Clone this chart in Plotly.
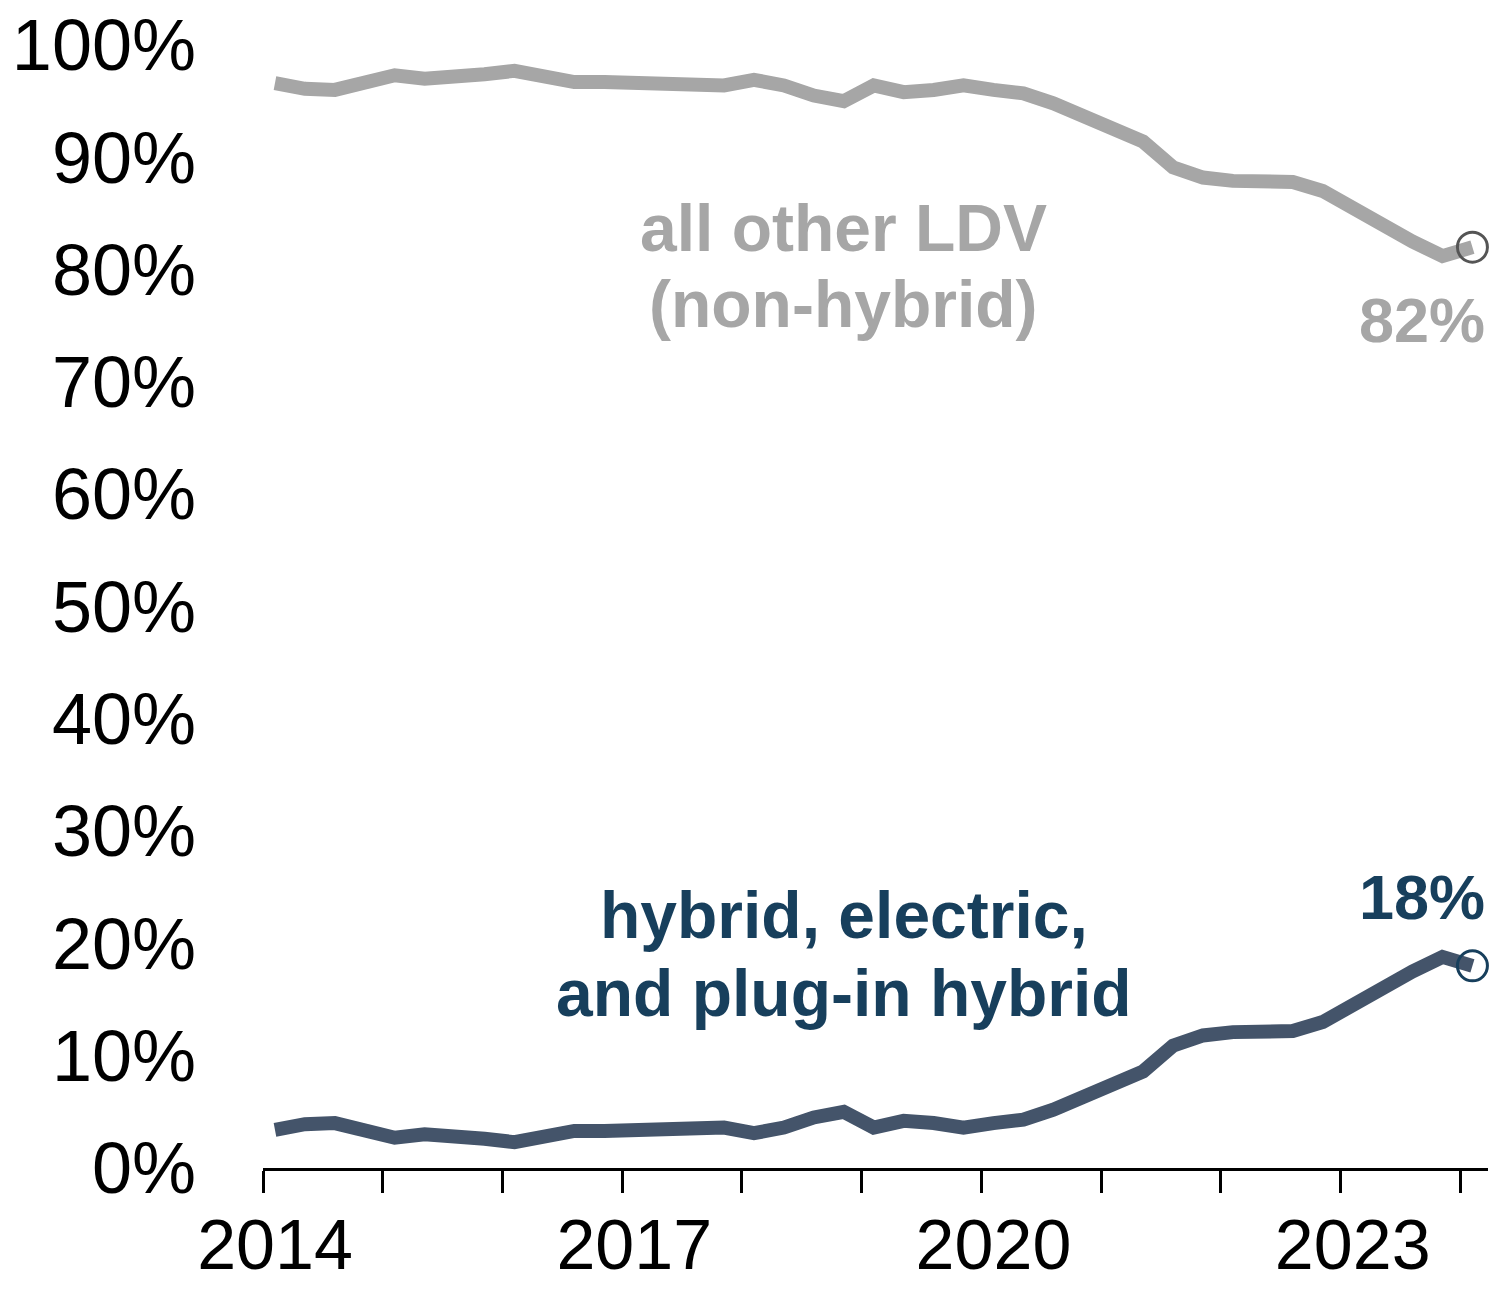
import pandas as pd
import plotly.graph_objects as go

# Quarterly observations, 2014 Q1 .. 2024 Q1
quarters = [str(p) for p in pd.period_range("2014Q1", "2024Q1", freq="Q")]

hybrid_share = [3.4, 3.9, 4.0, 3.2, 2.7, 3.0, 2.9, 2.6, 2.3, 2.8,
                3.3, 3.3, 3.3, 3.4, 3.5, 3.6, 3.1, 3.6, 4.5, 5.0,
                3.6, 4.2, 4.0, 3.6, 4.0, 4.3, 5.2, 6.3, 7.7, 8.6,
                10.9, 11.8, 12.1, 12.3, 12.2, 13.0, 14.6, 16.1, 17.5, 18.8,
                18.0]
other_share = [96.6, 96.1, 96.0, 96.8, 97.3, 97.0, 97.1, 97.4, 97.7, 97.2,
               96.7, 96.7, 96.7, 96.6, 96.5, 96.4, 96.9, 96.4, 95.5, 95.0,
               96.4, 95.8, 96.0, 96.4, 96.0, 95.7, 94.8, 93.7, 92.3, 91.4,
               89.1, 88.2, 87.9, 87.7, 87.8, 87.0, 85.4, 83.9, 82.5, 81.2,
               82.0]

year_ticks = list(range(2014, 2025))
year_labels = ["2014", "", "", "2017", "", "", "2020", "", "", "2023", ""]
y_ticks = list(range(0, 101, 10))
y_labels = [f"{v}%" for v in y_ticks]

GRAY = "#a6a6a6"
SLATE = "#44546a"
NAVY = "#173f5c"


def qpos(q):
    yr, qq = q.split("Q")
    return int(yr) + (int(qq) - 1) * 0.25 + 0.1


x = [qpos(q) for q in quarters]

fig = go.Figure()
fig.add_trace(go.Scatter(x=x, y=other_share, mode="lines",
                         line=dict(color=GRAY, width=14), hoverinfo="skip"))
fig.add_trace(go.Scatter(x=x, y=hybrid_share, mode="lines",
                         line=dict(color=SLATE, width=14), hoverinfo="skip"))
fig.add_trace(go.Scatter(x=[x[-1]], y=[other_share[-1]], mode="markers", cliponaxis=False,
                         marker=dict(symbol="circle-open", size=30, color="#555555",
                                     line=dict(width=3, color="#555555"))))
fig.add_trace(go.Scatter(x=[x[-1]], y=[hybrid_share[-1]], mode="markers", cliponaxis=False,
                         marker=dict(symbol="circle-open", size=30, color=NAVY,
                                     line=dict(width=3, color=NAVY))))

font_main = "Liberation Sans, Arial, sans-serif"


def label(xv, yv, text, color, size=66):
    fig.add_annotation(x=xv, y=yv, text=f"<b>{text}</b>", showarrow=False,
                       font=dict(family=font_main, size=size, color=color),
                       xanchor="center", yanchor="middle")


label(2018.85, 83.7, "all other LDV", GRAY)
label(2018.85, 76.9, "(non-hybrid)", GRAY)
label(2018.85, 22.5, "hybrid, electric,", NAVY)
label(2018.85, 15.6, "and plug-in hybrid", NAVY)
label(2023.68, 75.5, "82%", GRAY, 63)
label(2023.68, 24.1, "18%", NAVY, 63)

fig.update_layout(
    width=1499, height=1289,
    margin=dict(l=263, r=11, t=45, b=121),
    plot_bgcolor="white", paper_bgcolor="white",
    showlegend=False,
    font=dict(family=font_main, color="black"),
)
fig.update_xaxes(
    range=[2014, 2024.23], tickmode="array", tickvals=year_ticks, ticktext=year_labels,
    showgrid=False, zeroline=False, showline=True, linecolor="black", linewidth=3,
    ticks="outside", ticklen=22, tickwidth=3, tickcolor="black", automargin=False,
    tickfont=dict(size=70, color="black"), ticklabelshift=12, ticklabelstandoff=-8,
)
fig.update_yaxes(
    range=[0, 100], tickmode="array", tickvals=y_ticks, ticktext=y_labels,
    showgrid=False, zeroline=False, showline=False, ticks="", automargin=False,
    tickfont=dict(size=72, color="black"), ticklabelstandoff=66,
)

fig.write_html("out.html", config={"displayModeBar": False},
               post_script="document.body.style.margin='0';document.body.style.overflow='hidden';")
